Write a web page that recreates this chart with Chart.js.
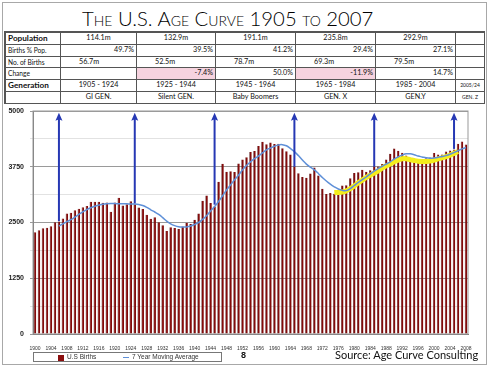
<!DOCTYPE html>
<html>
<head>
<meta charset="utf-8">
<script src="https://cdn.jsdelivr.net/npm/chart.js@4.4.1/dist/chart.umd.min.js"></script>
<style>
  body { margin: 0; width: 490px; height: 369px; overflow: hidden; background: #fff; position: relative; font-family: Lato, "Open Sans", sans-serif; color: #111; }
  #frame { position: absolute; left: 2px; top: 2px; width: 483px; height: 361px; border: 1px solid #a8a8a8; }
  #title { position: absolute; left: 82px; top: 6px; font-size: 20.3px; line-height: 24px; font-weight: 300; font-variant: small-caps; white-space: nowrap; color: #000; }
  #table { position: absolute; left: 4px; top: 31px; display: grid;
           grid-template-columns: 55px 76px 79px 80px 80px 80px 29px;
           grid-template-rows: repeat(6, 11.8px);
           border-left: 2px solid #555; border-top: 2px solid #555; box-sizing: border-box; }
  #table div { border-right: 1px solid #555; border-bottom: 1px solid #555; font-size: 7.2px; line-height: 10.5px; white-space: nowrap; overflow: hidden; padding: 0 2px; }
  #table .lbl { text-align: left; font-size: 6.6px; }
  #table .bold { font-weight: bold; font-size: 8.2px; }
  #table .c { text-align: center; }
  #table .r { text-align: right; }
  #table .l { text-align: left; padding-left: 18px; }
  #table .pink { background: #f6d3df; }
  #table .tiny { font-size: 5px; }
  #chart { position: absolute; left: 0; top: 0; }
  #legend { position: absolute; left: 33px; top: 352px; width: 187px; height: 8px; border: 1px solid #777; font-family: "Liberation Sans", Arial, sans-serif; font-size: 6.5px; line-height: 8px; color: #333; }
  #legend span { position: absolute; top: 0; }
  #page { position: absolute; left: 241px; top: 350px; font-family: "Liberation Sans", Arial, sans-serif; font-weight: bold; font-size: 9px; }
  #source { position: absolute; left: 335px; top: 348px; font-size: 11px; white-space: nowrap; }
</style>
</head>
<body>
<div id="frame"></div>
<div id="title">The U.S. Age Curve 1905 to 2007</div>
<div id="table"></div>
<canvas id="chart" width="490" height="369"></canvas>
<div id="legend">
  <span style="left:24px;top:1.5px;width:6px;height:6px;background:#8a0f0f;"></span>
  <span style="left:33px;">U.S Births</span>
  <span style="left:89px;top:3.5px;width:6px;height:1px;background:#5f90d8;"></span>
  <span style="left:98px;">7 Year Moving Average</span>
</div>
<div id="page">8</div>
<div id="source">Source: Age Curve Consulting</div>

<script>
// table rows
const periods = ["1905 - 1924", "1925 - 1944", "1945 - 1964", "1965 - 1984", "1985 - 2004", "2005/24"];
const generations = ["GI GEN.", "Silent GEN.", "Baby Boomers", "GEN. X", "GEN.Y", "GEN. Z"];
const population = ["114.1m", "132.9m", "191.1m", "235.8m", "292.9m", ""];
const birthsPct = ["49.7%", "39.5%", "41.2%", "29.4%", "27.1%", ""];
const birthsCount = ["56.7m", "52.5m", "78.7m", "69.3m", "79.5m", ""];
const change = ["", "-7.4%", "50.0%", "-11.9%", "14.7%", ""];

// chart data, 1900 - 2008 (thousands)
const years = [];
for (let y = 1900; y <= 2008; y++) years.push(String(y));

const births = [
  2280, 2325, 2370, 2385, 2415, 2505, 2520, 2590, 2700, 2718,
  2777, 2809, 2840, 2869, 2966, 2965, 2964, 2944, 2948, 2740,
  2950, 3055, 2882, 2910, 2979, 2909, 2839, 2802, 2674, 2582,
  2618, 2506, 2440, 2307, 2396, 2377, 2355, 2413, 2496, 2466,
  2559, 2703, 2989, 3104, 2939, 2858, 3411, 3817, 3637, 3649,
  3632, 3823, 3913, 3965, 4078, 4104, 4218, 4308, 4255, 4295,
  4258, 4268, 4167, 4098, 4027, 3760, 3606, 3521, 3502, 3600,
  3731, 3556, 3258, 3137, 3160, 3144, 3168, 3327, 3333, 3494,
  3612, 3629, 3681, 3639, 3669, 3761, 3757, 3809, 3910, 4041,
  4158, 4111, 4065, 4000, 3953, 3900, 3891, 3881, 3942, 3959,
  4059, 4026, 4022, 4090, 4112, 4138, 4266, 4316, 4247
];

const movingAvg = [
  null, null, null, null, null, null, 2420, 2470, 2520, 2565,
  2620, 2680, 2740, 2790, 2830, 2865, 2890, 2910, 2920, 2925,
  2925, 2920, 2920, 2920, 2915, 2915, 2905, 2880, 2840, 2785,
  2735, 2680, 2610, 2530, 2470, 2430, 2405, 2400, 2400, 2420,
  2455, 2500, 2570, 2650, 2760, 2860, 2970, 3100, 3230, 3340,
  3460, 3560, 3680, 3780, 3860, 3930, 3990, 4060, 4130, 4170,
  4210, 4240, 4245, 4220, 4160, 4090, 4000, 3900, 3810, 3740,
  3680, 3600, 3510, 3430, 3360, 3300, 3250, 3220, 3215, 3260,
  3330, 3400, 3460, 3520, 3590, 3650, 3710, 3760, 3810, 3860,
  3920, 3970, 4010, 4040, 4040, 4020, 3990, 3970, 3950, 3940,
  3945, 3960, 3980, 4000, 4030, 4070, 4110, 4150, 4180
];

const highlight = [
  null, null, null, null, null, null, null, null, null, null,
  null, null, null, null, null, null, null, null, null, null,
  null, null, null, null, null, null, null, null, null, null,
  null, null, null, null, null, null, null, null, null, null,
  null, null, null, null, null, null, null, null, null, null,
  null, null, null, null, null, null, null, null, null, null,
  null, null, null, null, null, null, null, null, null, null,
  null, null, null, null, null, 3170, 3175, 3185, 3210,
  3260, 3320, 3390, 3450, 3510, 3560, 3610, 3660, 3720, 3770,
  3810, 3860, 3900, 3930, 3930, 3910, 3890, 3875, 3870, 3870,
  3880, 3900, 3925, 3950, 3975, 4010, 4050, 4090, null
];

// generation arrows: year and the value where the shaft ends
const arrowYears = ["1906", "1925", "1945", "1965", "1985", "2005"];
const arrowBase = [2530, 2930, 2900, 3750, 3750, 4150];
const arrowTip = 4960;

const yTicks = [0, 1250, 2500, 3750, 5000];

// build the table
const tableEl = document.getElementById("table");
function addRow(label, labelCls, values, cls, extra) {
  const l = document.createElement("div");
  l.className = labelCls;
  l.textContent = label;
  tableEl.appendChild(l);
  values.forEach((v, i) => {
    const d = document.createElement("div");
    d.className = cls + (extra ? " " + extra(v, i) : "");
    d.textContent = v;
    tableEl.appendChild(d);
  });
}
addRow("Population", "lbl bold", population, "c");
addRow("Births % Pop.", "lbl", birthsPct, "r");
addRow("No. of  Births", "lbl", birthsCount, "l");
addRow("Change", "lbl", change, "r", (v) => (v.startsWith("-") ? "pink" : ""));
addRow("Generation", "lbl bold", periods, "c", (v, i) => (i === 5 ? "tiny" : ""));
addRow("", "lbl", generations, "c", (v, i) => (i === 5 ? "tiny" : ""));

const arrows = {
  id: "arrows",
  afterDatasetsDraw(chart) {
    const { ctx, scales: { x, y } } = chart;
    ctx.save();
    ctx.strokeStyle = "#2638b4";
    ctx.fillStyle = "#2638b4";
    ctx.lineWidth = 2;
    arrowYears.forEach((yr, i) => {
      const px = x.getPixelForValue(years.indexOf(yr));
      const top = y.getPixelForValue(arrowTip);
      const base = y.getPixelForValue(arrowBase[i]);
      ctx.beginPath();
      ctx.moveTo(px, base);
      ctx.lineTo(px, top + 5);
      ctx.stroke();
      ctx.beginPath();
      ctx.moveTo(px, top);
      ctx.lineTo(px - 3.5, top + 8);
      ctx.lineTo(px, top + 6.5);
      ctx.lineTo(px + 3.5, top + 8);
      ctx.closePath();
      ctx.fill();
    });
    ctx.restore();
  },
};

const plotFrame = {
  id: "plotFrame",
  beforeDatasetsDraw(chart) {
    const { ctx, chartArea: a } = chart;
    ctx.save();
    ctx.strokeStyle = "#999";
    ctx.lineWidth = 1;
    ctx.strokeRect(a.left, a.top, a.right - a.left, a.bottom - a.top);
    ctx.restore();
  },
};

new Chart(document.getElementById("chart"), {
  type: "bar",
  data: {
    labels: years,
    datasets: [
      {
        type: "line",
        label: "7 Year Moving Average",
        data: movingAvg,
        borderColor: "#5f90d8",
        borderWidth: 1.5,
        pointRadius: 0,
        tension: 0.4,
        order: 0,
      },
      {
        type: "line",
        label: "highlight",
        data: highlight,
        borderColor: "#f4ee1c",
        borderWidth: 5,
        pointRadius: 0,
        tension: 0.4,
        order: 1,
      },
      {
        label: "U.S Births",
        data: births,
        backgroundColor: "#820b0b",
        borderColor: "#420202",
        borderWidth: { left: 0.6, right: 0, top: 0, bottom: 0 },
        barPercentage: 0.62,
        categoryPercentage: 1,
        order: 2,
      },
    ],
  },
  options: {
    responsive: false,
    animation: false,
    layout: { padding: { left: 0, right: 22, top: 111, bottom: 0 } },
    plugins: { legend: { display: false }, tooltip: { enabled: false } },
    scales: {
      x: {
        grid: { display: false },
        border: { color: "#777" },
        afterFit: (s) => { s.height = 35; },
        ticks: {
          autoSkip: false,
          maxRotation: 0,
          padding: 4,
          color: "#333",
          font: { family: "Liberation Sans", size: 5 },
          callback: (v, i) => ((Number(years[i]) - 1900) % 4 === 0 ? years[i] : ""),
        },
      },
      y: {
        min: 0,
        max: 5000,
        afterFit: (s) => { s.width = 33; },
        afterBuildTicks: (s) => {
          s.ticks = [];
          for (let v = 0; v <= 5000; v += 625) s.ticks.push({ value: v });
        },
        border: { color: "#777" },
        grid: {
          color: (c) => (yTicks.includes(c.tick.value) ? "#9a9a9a" : "#e2e2e2"),
          tickLength: 3,
        },
        ticks: {
          padding: 6,
          color: "#222",
          font: { family: "Liberation Sans", size: 7, weight: "bold" },
          callback: (v) => (yTicks.includes(v) ? String(v) : ""),
        },
      },
    },
  },
  plugins: [plotFrame, arrows],
});
</script>
</body>
</html>
